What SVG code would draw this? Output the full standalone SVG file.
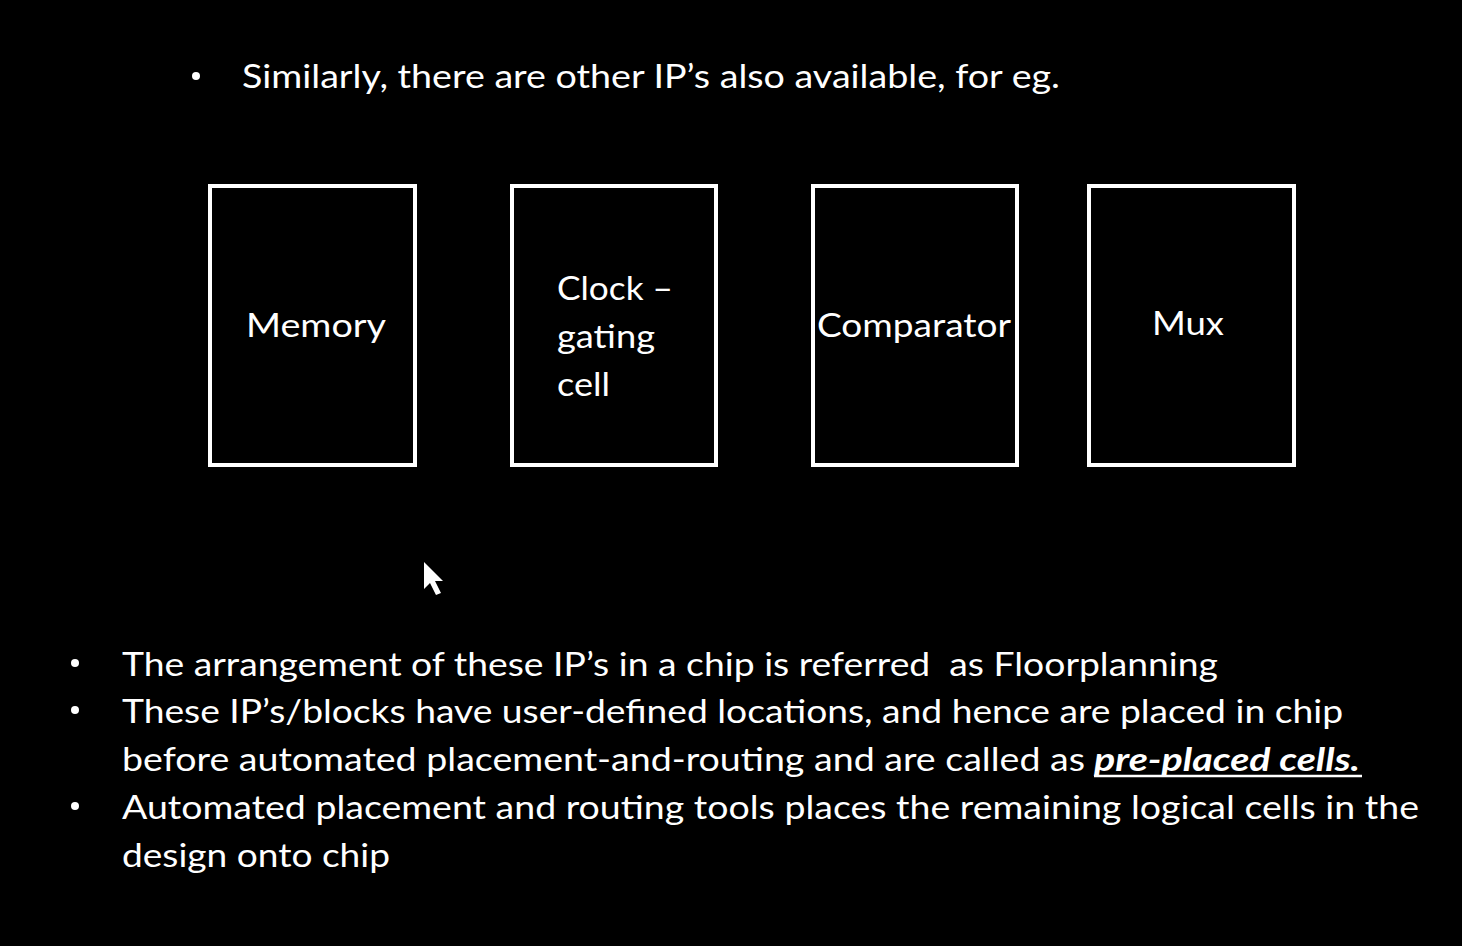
<svg xmlns="http://www.w3.org/2000/svg" width="1462" height="946" viewBox="0 0 1462 946">
  <style>
    .txt { font-family: Lato, "Open Sans", "Liberation Sans", sans-serif; fill: #ffffff; white-space: pre; }
    .body { font-size: 33px; }
    .label { font-size: 33px; }
    .blk { fill: #000000; stroke: #ffffff; stroke-width: 4; }
    .em { font-weight: bold; font-style: italic; }
  </style>
  <rect x="0" y="0" width="1462" height="946" fill="#000000"/>

  <!-- intro bullet -->
  <g id="intro">
    <circle cx="196" cy="76" r="4" fill="#ffffff"/>
    <text class="txt body" x="242" y="88" textLength="818" lengthAdjust="spacingAndGlyphs">Similarly, there are other IP’s also available, for eg.</text>
  </g>

  <!-- IP blocks -->
  <g id="memory">
    <rect class="blk" x="210" y="186" width="205" height="279"/>
    <text class="txt label" x="246" y="337" textLength="140" lengthAdjust="spacingAndGlyphs">Memory</text>
  </g>
  <g id="clock-gating">
    <rect class="blk" x="512" y="186" width="204" height="279"/>
    <text class="txt label" x="557" y="300" textLength="116" lengthAdjust="spacingAndGlyphs">Clock –</text>
    <text class="txt label" x="557" y="348" textLength="98" lengthAdjust="spacingAndGlyphs">gating</text>
    <text class="txt label" x="557" y="396" textLength="53" lengthAdjust="spacingAndGlyphs">cell</text>
  </g>
  <g id="comparator">
    <rect class="blk" x="813" y="186" width="204" height="279"/>
    <text class="txt label" x="817" y="337" textLength="194" lengthAdjust="spacingAndGlyphs">Comparator</text>
  </g>
  <g id="mux">
    <rect class="blk" x="1089" y="186" width="205" height="279"/>
    <text class="txt label" x="1152" y="335" textLength="72" lengthAdjust="spacingAndGlyphs">Mux</text>
  </g>

  <!-- mouse pointer -->
  <g id="pointer">
    <polygon points="424,562 424,589 430,583 436,595 441,593 435,581 443,581" fill="#ffffff"/>
  </g>

  <!-- notes -->
  <g id="notes">
    <circle cx="75" cy="663" r="4" fill="#ffffff"/>
    <circle cx="75" cy="710" r="4" fill="#ffffff"/>
    <circle cx="75" cy="806" r="4" fill="#ffffff"/>
    <text class="txt body" x="122" y="676" textLength="1096" lengthAdjust="spacingAndGlyphs">The arrangement of these IP’s in a chip is referred  as Floorplanning</text>
    <text class="txt body" x="122" y="723" textLength="1221" lengthAdjust="spacingAndGlyphs">These IP’s/blocks have user-defined locations, and hence are placed in chip</text>
    <text class="txt body" x="122" y="771" textLength="963" lengthAdjust="spacingAndGlyphs">before automated placement-and-routing and are called as</text>
    <text class="txt body em" x="1094" y="771" textLength="266" lengthAdjust="spacingAndGlyphs">pre-placed cells.</text>
    <line x1="1094" y1="776" x2="1362" y2="776" stroke="#ffffff" stroke-width="2.5"/>
    <text class="txt body" x="122" y="819" textLength="1297" lengthAdjust="spacingAndGlyphs">Automated placement and routing tools places the remaining logical cells in the</text>
    <text class="txt body" x="122" y="867" textLength="268" lengthAdjust="spacingAndGlyphs">design onto chip</text>
  </g>
</svg>
